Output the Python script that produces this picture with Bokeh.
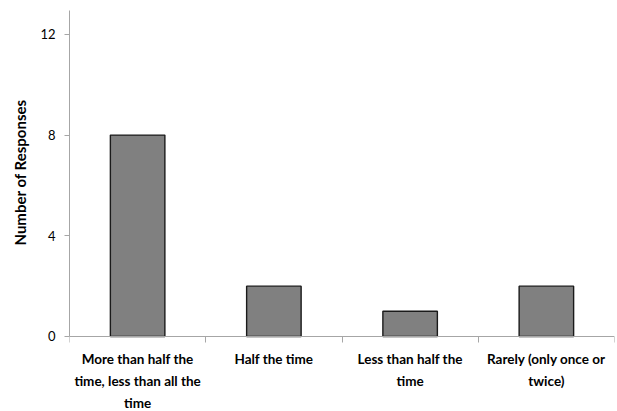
from bokeh.plotting import figure
from bokeh.models import FixedTicker, Range1d, Title
from bokeh.embed import file_html
from bokeh.resources import INLINE

categories = [
    "More than half the\ntime, less than all the\ntime",
    "Half the time",
    "Less than half the\ntime",
    "Rarely (only once or\ntwice)",
]
responses = [8, 2, 1, 2]
y_ticks = [0, 4, 8, 12]
y_title = "Number of Responses"
y_max = 12.95
y_label_room = 2.98  # space below zero kept for the category labels

n = len(categories)
xs = [i + 0.5 for i in range(n)]

p = figure(width=617, height=411, output_backend="svg", toolbar_location=None,
           x_range=Range1d(0, n), y_range=Range1d(-y_label_room, y_max),
           min_border_left=69, min_border_top=10, min_border_right=3, min_border_bottom=0)

p.vbar(x=xs, top=responses, width=0.4, bottom=0,
       fill_color="#808080", line_color="#1a1a1a", line_width=1.4)

p.xgrid.visible = False
p.ygrid.visible = False
p.outline_line_color = None
p.background_fill_color = "white"
p.border_fill_color = "white"

FONT = "Lato"
axis_grey = "#a6a6a6"

# x axis drawn at y = 0 with separators between categories
xa = p.xaxis[0]
xa.fixed_location = 0
xa.ticker = FixedTicker(ticks=xs, minor_ticks=list(range(n + 1)))
xa.major_label_overrides = {x: c for x, c in zip(xs, categories)}
xa.major_tick_line_color = None
xa.minor_tick_in = 0
xa.minor_tick_out = 6
xa.minor_tick_line_color = axis_grey
xa.axis_line_color = axis_grey
xa.major_label_text_font = FONT
xa.major_label_text_font_style = "bold"
xa.major_label_text_font_size = "13.5px"
xa.major_label_text_color = "black"
xa.major_label_text_line_height = 1.36
xa.major_label_standoff = 9

# y axis
ya = p.yaxis[0]
ya.bounds = (0, y_max)
ya.ticker = FixedTicker(ticks=y_ticks)
ya.minor_tick_line_color = None
ya.major_tick_in = 0
ya.major_tick_out = 5
ya.major_tick_line_color = axis_grey
ya.axis_line_color = axis_grey
ya.major_label_text_font = FONT
ya.major_label_text_font_size = "13px"
ya.major_label_text_color = "black"
ya.major_label_standoff = 9

# y axis title, centred on the 0..max part of the axis
p.add_layout(Title(text=y_title, align="left", offset=166, vertical_align="middle",
                   standoff=16, text_font=FONT, text_font_style="bold",
                   text_font_size="15px", text_color="black"), "left")

open("out.html", "w").write(file_html(p, INLINE))
